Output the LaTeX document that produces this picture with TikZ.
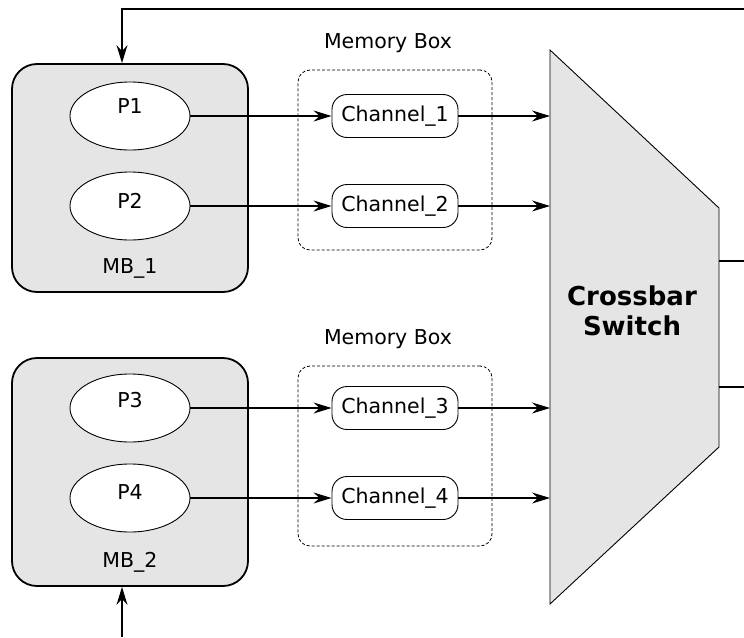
\documentclass[tikz,border=0pt]{standalone}
\usepackage{fontspec}
\setmainfont{DejaVu Sans}
\usetikzlibrary{arrows.meta,shapes.geometric}
\definecolor{boxgray}{HTML}{E5E5E5}
\begin{document}
\begin{tikzpicture}[x=1pt,y=-1pt,
  txt/.style={font=\fontsize{20.5}{24}\selectfont, inner sep=0pt},
  mbbox/.style={draw, line width=1.8pt, rounded corners=25pt, fill=boxgray,
    minimum width=236pt, minimum height=228pt},
  proc/.style={draw, ellipse, fill=white, line width=0.9pt,
    minimum width=120pt, minimum height=68pt, inner sep=0pt},
  chan/.style={draw, rounded corners=15pt, fill=white, line width=0.9pt,
    minimum width=126pt, minimum height=43pt, inner sep=0pt,
    font=\fontsize{20.5}{24}\selectfont},
  membox/.style={draw, dash pattern=on 3pt off 2pt, rounded corners=12pt,
    line width=0.8pt, minimum width=194pt, minimum height=180pt},
  link/.style={line width=1.2pt, -{Stealth[length=18pt,width=11pt,inset=6pt]}},
  wire/.style={line width=1.2pt},
]
\useasboundingbox (0,0) rectangle (744,637);

% memory buffer groups
\node[mbbox] (mb1) at (130,178) {};
\node[mbbox] (mb2) at (130,472) {};
\node[txt] (mb1t) at (130,268) {MB\_1};
\node[txt] (mb2t) at (130,562) {MB\_2};

% processes
\node[proc] (p1) at (130,116) {};
\node[proc] (p2) at (130,206) {};
\node[proc] (p3) at (130,408) {};
\node[proc] (p4) at (130,498) {};
\node[txt] (p1t) at (130,106) {P1};
\node[txt] (p2t) at (130,201) {P2};
\node[txt] (p3t) at (130,400) {P3};
\node[txt] (p4t) at (130,492) {P4};

% memory boxes with their channels
\node[membox] (box1) at (395,160) {};
\node[membox] (box2) at (395,456) {};
\node[txt] (box1t) at (388,43) {Memory Box};
\node[txt] (box2t) at (388,339) {Memory Box};

\node[chan] (c1) at (395,116) {Channel\_1};
\node[chan] (c2) at (395,206) {Channel\_2};
\node[chan] (c3) at (395,408) {Channel\_3};
\node[chan] (c4) at (395,498) {Channel\_4};

% crossbar switch
\coordinate (xtl) at (550,50);
\coordinate (xtr) at (719,208);
\coordinate (xbr) at (719,447);
\coordinate (xbl) at (550,604);
\draw[fill=boxgray, line width=0.9pt] (xtl) -- (xtr) -- (xbr) -- (xbl) -- cycle;
\node[font=\bfseries\fontsize{26}{30}\selectfont, align=center] (xbar) at (632,311)
  {Crossbar\\Switch};

\coordinate (in1) at (550,116);
\coordinate (in2) at (550,206);
\coordinate (in3) at (550,408);
\coordinate (in4) at (550,498);
\coordinate (out1) at (719,261);
\coordinate (out2) at (719,387);
\coordinate (out1e) at (744,261);
\coordinate (out2e) at (744,387);

% connectors
\draw[link] (p1) -- (c1);
\draw[link] (p2) -- (c2);
\draw[link] (p3) -- (c3);
\draw[link] (p4) -- (c4);
\draw[link] (c1) -- (in1);
\draw[link] (c2) -- (in2);
\draw[link] (c3) -- (in3);
\draw[link] (c4) -- (in4);
\draw[wire] (out1) -- (out1e);
\draw[wire] (out2) -- (out2e);

% feedback paths
\coordinate (fbr) at (744,9);
\coordinate (fbt) at (122,9);
\coordinate (fbb) at (122,637);
\draw[link] (fbr) -- (fbt) -- (fbt |- mb1.north);
\draw[link] (fbb) -- (fbb |- mb2.south);
\end{tikzpicture}
\end{document}
